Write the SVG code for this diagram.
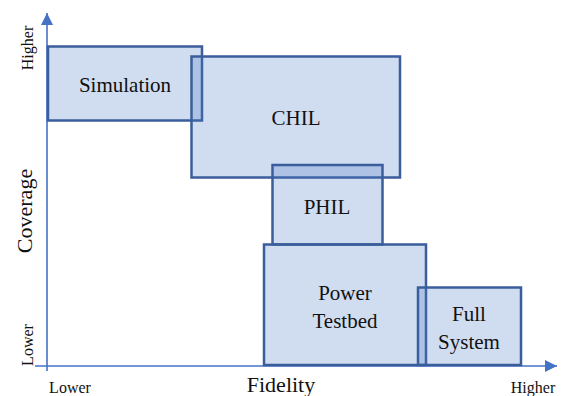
<svg xmlns="http://www.w3.org/2000/svg" width="565" height="396" viewBox="0 0 565 396">
<style>
.box{fill:#4472C4;fill-opacity:0.25;stroke:#3A5E9B;stroke-width:2.5}
.axis{stroke:#4472C4;stroke-width:1.6;fill:none}
.lbl{font-family:"Liberation Serif","Times New Roman",serif;font-size:21px;fill:#111;text-anchor:middle}
.ax{font-family:"Liberation Serif","Times New Roman",serif;font-size:16px;fill:#111;text-anchor:middle}
.title{font-family:"Liberation Serif","Times New Roman",serif;font-size:22px;fill:#111;text-anchor:middle}
</style>
<defs>
<marker id="arr" viewBox="0 0 10 10" refX="10" refY="5" markerWidth="7.5" markerHeight="7.5" markerUnits="strokeWidth" orient="auto">
<path d="M0,0 L10,5 L0,10 z" fill="#4472C4"/>
</marker>
</defs>
<g id="connectors">
<line class="axis" x1="47" y1="371" x2="47" y2="13" marker-end="url(#arr)"/>
<line class="axis" x1="35" y1="366" x2="557" y2="366" marker-end="url(#arr)"/>
</g>
<g id="simulation">
<rect class="box" x="48" y="46.5" width="154" height="74"/>
<text class="lbl" x="125" y="92">Simulation</text>
</g>
<g id="chil">
<rect class="box" x="191.5" y="56.5" width="208.5" height="121"/>
<text class="lbl" x="296" y="125">CHIL</text>
</g>
<g id="phil">
<rect class="box" x="272.5" y="165" width="110" height="79.5"/>
<text class="lbl" x="327" y="214">PHIL</text>
</g>
<g id="power-testbed">
<rect class="box" x="264" y="244.5" width="162" height="120.5"/>
<text class="lbl" x="345" y="300">Power</text>
<text class="lbl" x="345" y="328">Testbed</text>
</g>
<g id="full-system">
<rect class="box" x="418" y="287.5" width="103" height="77.5"/>
<text class="lbl" x="469" y="321">Full</text>
<text class="lbl" x="469" y="349">System</text>
</g>
<g id="axis-labels">
<text class="title" x="281" y="392">Fidelity</text>
<text class="ax" x="70" y="393">Lower</text>
<text class="ax" x="533" y="393">Higher</text>
<text class="title" transform="translate(32,211) rotate(-90)">Coverage</text>
<text class="ax" transform="translate(33,48) rotate(-90)">Higher</text>
<text class="ax" transform="translate(33,345) rotate(-90)">Lower</text>
</g>
</svg>
